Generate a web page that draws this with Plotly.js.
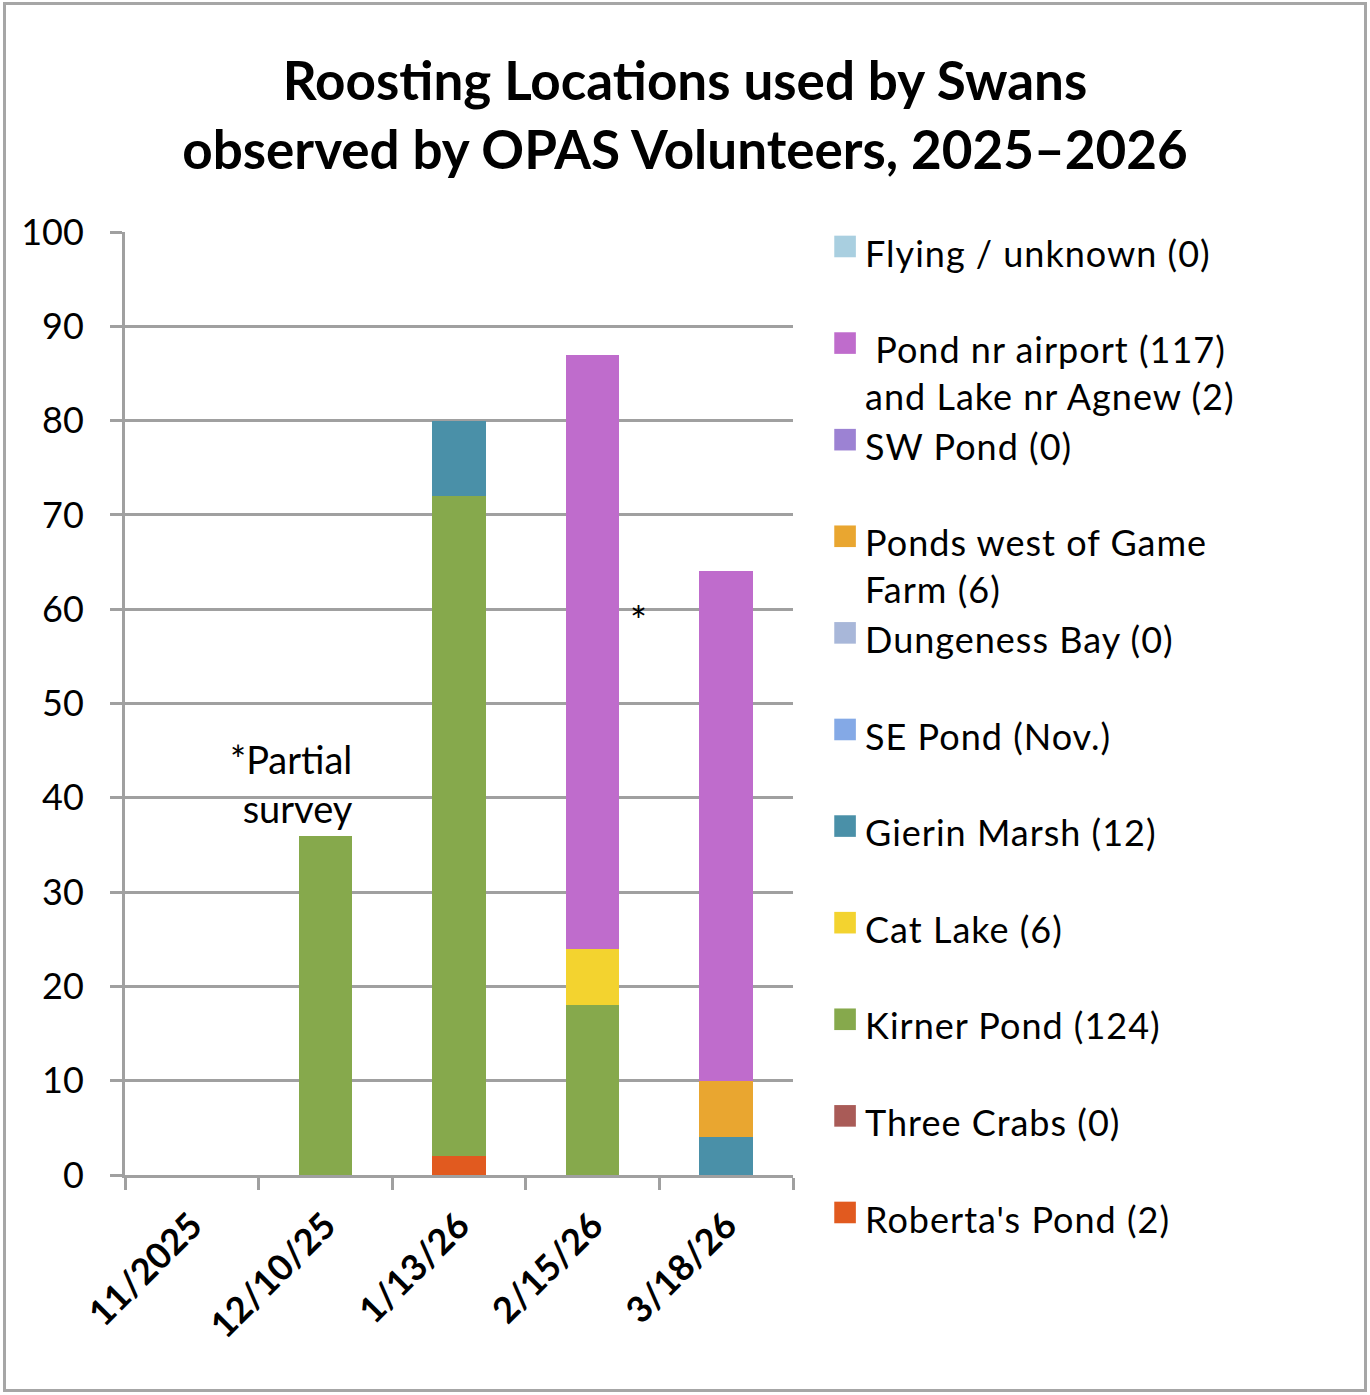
<!DOCTYPE html>
<html>
<head>
<meta charset="utf-8">
<script src="https://cdn.plot.ly/plotly-3.0.1.min.js"></script>
<style>
  html, body { margin: 0; padding: 0; background: #fff; }
  #chart { position: absolute; left: 0; top: 0; width: 1370px; height: 1395px; }
  #frame { position: absolute; left: 3px; top: 2px; width: 1364px; height: 1390px;
           box-sizing: border-box; border: 3px solid #a6a6a6; pointer-events: none; }
  #chart .legendtext { letter-spacing: 1px; }
  #chart .legend .scrollbox { clip-path: none !important; }
</style>
</head>
<body>
<div id="chart"></div>
<div id="frame"></div>
<script>
// Categories (survey dates) and their tick labels
const categories = ["11/2025", "12/10/25", "1/13/26", "2/15/26", "3/18/26"];
const tickLabels = ["11/2025", "12/10/25", "1/13/26", "2/15/26", "3/18/26"];

// Series values per survey (stacked bottom to top)
const robertasPond   = [0, 0, 2, 0, 0];
const threeCrabs     = [0, 0, 0, 0, 0];
const kirnerPond     = [0, 36, 70, 18, 0];
const catLake        = [0, 0, 0, 6, 0];
const gierinMarsh    = [0, 0, 8, 0, 4];
const sePond         = [0, 0, 0, 0, 0];
const dungenessBay   = [0, 0, 0, 0, 0];
const pondsWestGame  = [0, 0, 0, 0, 6];
const swPond         = [0, 0, 0, 0, 0];
const pondNrAirport  = [0, 0, 0, 63, 54];
const flyingUnknown  = [0, 0, 0, 0, 0];

// Legend labels
const seriesNames = [
  "Roberta's Pond (2)",
  "Three Crabs (0)",
  "Kirner Pond (124)",
  "Cat Lake (6)",
  "Gierin Marsh (12)",
  "SE Pond (Nov.)",
  "Dungeness Bay (0)",
  "Ponds west of Game<br>Farm (6)",
  "SW Pond (0)",
  " Pond nr airport (117)<br>and Lake nr Agnew (2)",
  "Flying / unknown (0)"
];
const seriesValues = [robertasPond, threeCrabs, kirnerPond, catLake, gierinMarsh, sePond,
                      dungenessBay, pondsWestGame, swPond, pondNrAirport, flyingUnknown];
const seriesColors = ["#e15a1f", "#a95b57", "#86a94c", "#f3d32f", "#4a90a8", "#84a9e6",
                      "#a8b7d9", "#e9a630", "#9c82d3", "#bf6ccc", "#a9cfe0"];

const FONT = "Lato, 'Liberation Sans', sans-serif";

const traces = seriesValues.map((vals, i) => ({
  type: "bar",
  x: categories,
  y: vals,
  name: seriesNames[i].indexOf("<br>") >= 0 ? seriesNames[i] : seriesNames[i] + "<br>\u00a0",
  marker: { color: seriesColors[i], line: { width: 0 } },
  width: 0.4,
  hoverinfo: "none"
}));

const layout = {
  width: 1370,
  height: 1395,
  paper_bgcolor: "#ffffff",
  plot_bgcolor: "#ffffff",
  barmode: "stack",
  margin: { l: 125, r: 577, t: 232, b: 220 },
  font: { family: FONT, color: "#000000", size: 36 },
  title: {
    text: "Roosting Locations used by Swans<br>observed by OPAS Volunteers, 2025\u20132026",
    font: { family: FONT, size: 53, weight: 700, color: "#000000" },
    x: 0.5, xref: "container", xanchor: "center",
    y: 0.928, yref: "container", yanchor: "top"
  },
  xaxis: {
    type: "category",
    range: [-0.5, 4.5],
    tickson: "boundaries",
    tickmode: "array",
    tickvals: categories,
    ticktext: tickLabels.map(t => "<b>" + t + "</b>"),
    ticks: "outside",
    ticklen: 12,
    tickwidth: 3,
    tickcolor: "#a0a0a0",
    showline: true,
    linecolor: "#a0a0a0",
    linewidth: 3,
    showgrid: false,
    tickangle: -45,
    tickfont: { family: FONT, size: 36, weight: 700, color: "#000000" },
    ticklabelstandoff: 12,
    fixedrange: true
  },
  yaxis: {
    range: [0, 100],
    dtick: 10,
    tick0: 0,
    ticks: "outside",
    ticklen: 12,
    tickwidth: 3,
    tickcolor: "#a0a0a0",
    showline: true,
    linecolor: "#a0a0a0",
    linewidth: 3,
    showgrid: true,
    gridcolor: "#a0a0a0",
    gridwidth: 3,
    zeroline: false,
    tickfont: { family: FONT, size: 36, color: "#000000" },
    ticklabelstandoff: 19,
    fixedrange: true
  },
  showlegend: true,
  legend: {
    x: 1.048, xanchor: "left",
    y: 1.01, yanchor: "top",
    maxheight: 1,
    traceorder: "reversed",
    valign: "top",
    font: { family: FONT, size: 36, color: "#000000" },
    bgcolor: "rgba(0,0,0,0)",
    borderwidth: 0,
    itemclick: false,
    itemdoubleclick: false
  },
  annotations: [
    {
      xref: "x", yref: "y",
      x: 1.22, y: 41.5,
      xanchor: "right", yanchor: "middle",
      align: "right",
      text: "*Partial<br>survey",
      showarrow: false,
      font: { family: FONT, size: 38, color: "#000000" }
    },
    {
      xref: "x", yref: "y",
      x: 3.34, y: 58.8,
      xanchor: "center", yanchor: "middle",
      text: "*",
      showarrow: false,
      font: { family: FONT, size: 40, color: "#000000" }
    }
  ]
};

Plotly.newPlot("chart", traces, layout, { displayModeBar: false, staticPlot: true }).then(gd => {
  gd.querySelectorAll(".legend .legendpoints path").forEach(p => {
    const t = p.getAttribute("transform") || "";
    p.setAttribute("transform", t + " translate(0,-6) scale(1.8)");
  });
});
</script>
</body>
</html>
